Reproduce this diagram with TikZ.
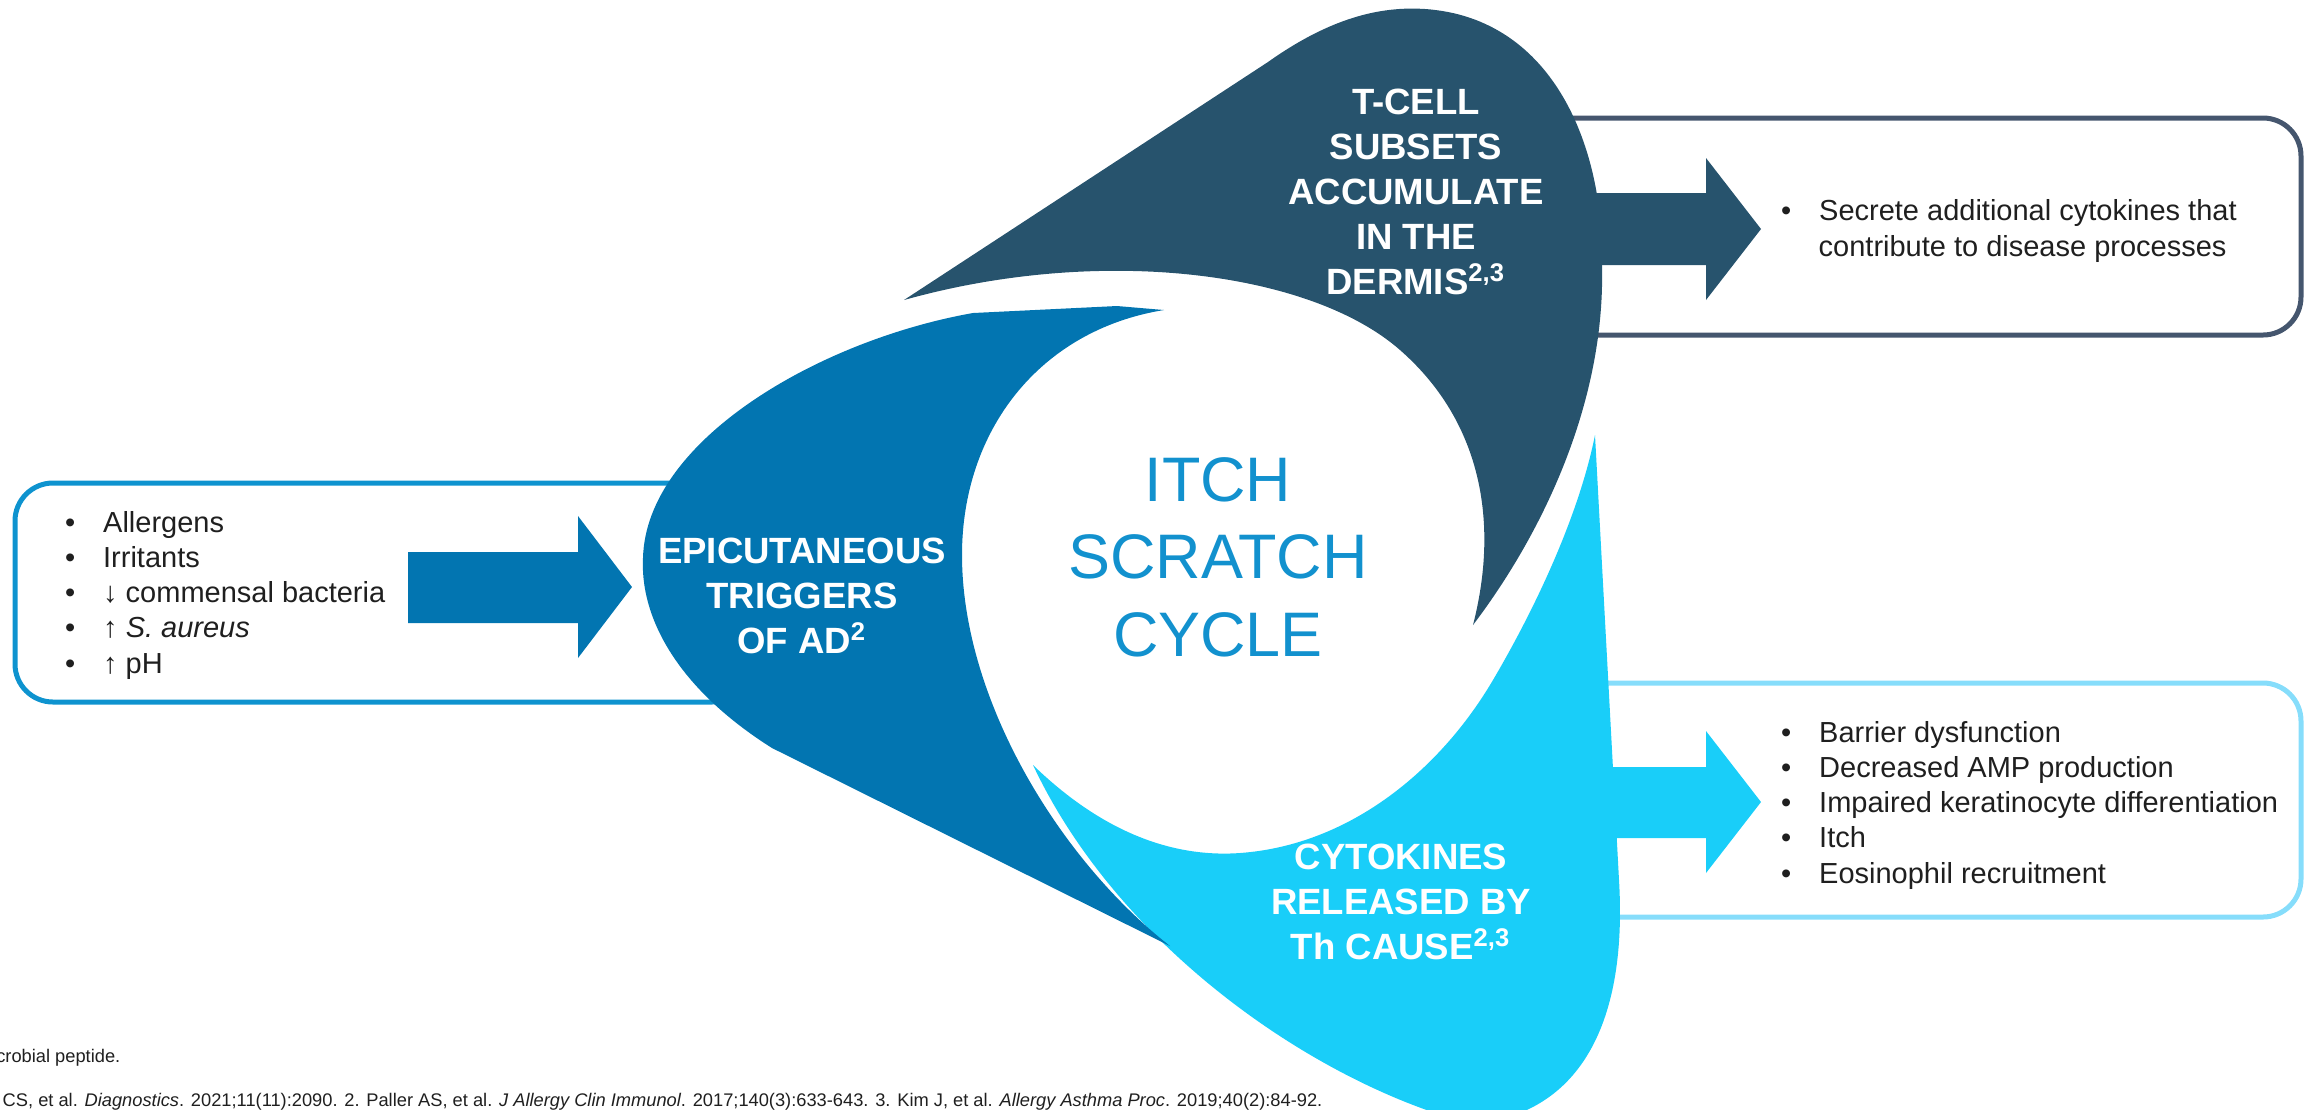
\documentclass[tikz,border=0pt]{standalone}
\usepackage{fontspec}
\setmainfont{Liberation Sans}

\definecolor{tcellblue}{HTML}{27536D}
\definecolor{triggerblue}{HTML}{0275B1}
\definecolor{cytoblue}{HTML}{19CEF9}
\definecolor{cycletext}{HTML}{1291CE}
\definecolor{triggerline}{HTML}{0E93CF}
\definecolor{tcellline}{HTML}{45566E}
\definecolor{cytoline}{HTML}{86DDFB}

\newcommand{\bul}{\makebox[3.8mm][l]{•}}

\begin{document}
\begin{tikzpicture}[x=0.1mm, y=-0.1mm,
    listtext/.style={anchor=base west, inner sep=0pt, text=black!88,
      font=\fontsize{8.25}{9.9}\selectfont},
    bladetext/.style={align=center, inner sep=0pt, text=white,
      font=\fontsize{10.4}{12.8}\selectfont\bfseries},
    reftext/.style={anchor=base east, inner sep=0pt, text=black!88,
      font=\fontsize{5.2}{6.2}\selectfont},
    outline/.style={line width=0.5mm, rounded corners=3.8mm}]
\useasboundingbox (0,0) rectangle (2315,1109);

% the three boxes, their left ends go under the blades
\draw[outline, triggerline] (15,483) rectangle (750,702);
\draw[outline, tcellline] (1500,118) rectangle (2301,335);
\draw[outline, cytoline] (1530,683) rectangle (2301,917);

% block arrows
\fill[triggerblue] (408,552) -- (578,552) -- (578,516) -- (632,587) -- (578,658) -- (578,623) -- (408,623) -- cycle;
\fill[tcellblue] (1560,193) -- (1706,193) -- (1706,158) -- (1761,229) -- (1706,300) -- (1706,265) -- (1560,265) -- cycle;
\fill[cytoblue] (1580,767) -- (1706,767) -- (1706,731) -- (1761,802) -- (1706,873) -- (1706,838) -- (1580,838) -- cycle;

% blades round the cycle
\fill[cytoblue] (1595,435) -- (1619,880)
  .. controls (1628,1030) and (1575,1115) .. (1472,1124)
  .. controls (1320,1085) and (1120,950) .. (1033,765)
  .. controls (1100,830) and (1170,858) .. (1240,853)
  .. controls (1350,845) and (1440,770) .. (1493,680)
  .. controls (1540,600) and (1580,510) .. (1595,435) -- cycle;
\fill[triggerblue] (1170,946) -- (772,748)
  .. controls (680,690) and (640,620) .. (643,558)
  .. controls (646,440) and (820,340) .. (973,313)
  -- (1117,306) -- (1164,310)
  .. controls (1040,330) and (962,430) .. (962,555)
  .. controls (962,700) and (1060,860) .. (1170,946) -- cycle;
\fill[tcellblue] (904,300) -- (1268,62)
  .. controls (1330,18) and (1380,6) .. (1425,9)
  .. controls (1555,18) and (1605,150) .. (1602,267)
  .. controls (1605,400) and (1545,530) .. (1473,625)
  .. controls (1500,520) and (1480,420) .. (1400,350)
  .. controls (1310,271) and (1100,245) .. (904,300) -- cycle;

% labels
\node[bladetext] (triggers) at (802,596) {EPICUTANEOUS\\TRIGGERS\\OF AD\textsuperscript{2}};
\node[bladetext] (tcells) at (1416,192) {T-CELL\\SUBSETS\\ACCUMULATE\\IN THE\\DERMIS\textsuperscript{2,3}};
\node[bladetext] (cytokines) at (1401,902) {CYTOKINES\\RELEASED BY\\Th CAUSE\textsuperscript{2,3}};
\node[align=center, inner sep=0pt, text=cycletext, font=\fontsize{17.9}{22.05}\selectfont] (cycle) at (1218,557) {ITCH\\SCRATCH\\CYCLE};

% lists
\foreach \entry [count=\i from 0] in {Allergens, Irritants, ↓ commensal bacteria, {↑ \textit{S. aureus}}, ↑ pH}
  \node[listtext] (trigger\i) at (64.5, 532+35.3*\i) {\bul\entry};
\node[listtext] (secrete) at (1780.5,220) {\bul Secrete additional cytokines that};
\node[listtext] (secretecont) at (1818,256) {contribute to disease processes};
\foreach \entry [count=\i from 0] in {Barrier dysfunction, Decreased AMP production, Impaired keratinocyte differentiation, Itch, Eosinophil recruitment}
  \node[listtext] (effect\i) at (1780.5, 742+35.3*\i) {\bul\entry};

% footnotes, cut at the left edge
\node[reftext] (abbrev) at (121,1062) {crobial peptide.};
\node[reftext] (refs) at (1323,1106) {CS, et al. \textit{Diagnostics}. 2021;11(11):2090. 2. Paller AS, et al. \textit{J Allergy Clin Immunol}. 2017;140(3):633-643. 3. Kim J, et al. \textit{Allergy Asthma Proc}. 2019;40(2):84-92.};
\end{tikzpicture}
\end{document}
